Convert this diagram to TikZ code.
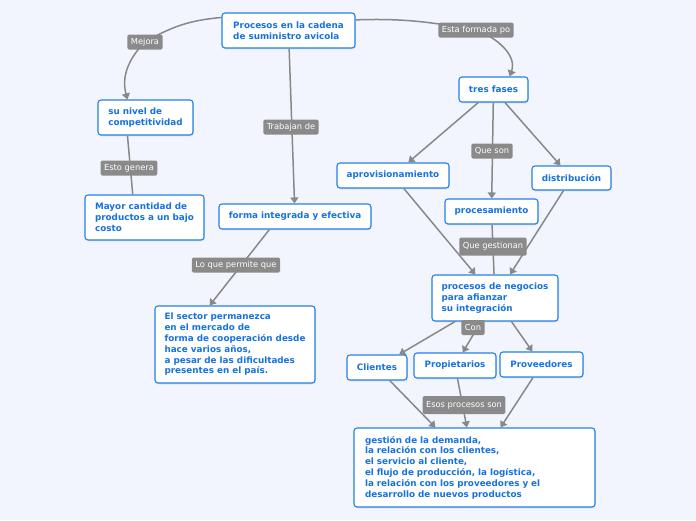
\documentclass[tikz,border=0pt]{standalone}
\usepackage{fontspec}
\setmainfont{DejaVu Sans}
\usetikzlibrary{arrows.meta,shadows}
\definecolor{bgc}{RGB}{242,245,253}
\definecolor{nodeblue}{RGB}{34,128,232}
\definecolor{textblue}{RGB}{22,114,224}
\definecolor{labgray}{RGB}{138,138,138}
\definecolor{conngray}{RGB}{136,136,136}
\tikzset{
  x=1pt,y=-1pt,
  boxbase/.style={draw=nodeblue,fill=white,line width=1.1pt,rounded corners=3pt,
    text=textblue,font=\bfseries\fontsize{8.8}{10.8}\selectfont,
    drop shadow={opacity=0.18,shadow xshift=0.6pt,shadow yshift=-1.4pt}},
  sbox/.style={boxbase,align=center,inner xsep=0pt,inner ysep=0pt,minimum height=25pt},
  mbox/.style={boxbase,align=left,inner xsep=0pt,inner ysep=0pt},
  lab/.style={fill=labgray,text=white,rounded corners=1.5pt,inner xsep=3.5pt,inner ysep=0pt,
    minimum height=15pt,font=\fontsize{8.3}{10}\selectfont},
  conn/.style={draw=conngray,line width=1.5pt},
  arr/.style={conn,-{Triangle[width=8pt,length=6pt]}}
}
\begin{document}
\begin{tikzpicture}
\fill[bgc] (0,0) rectangle (696,520);
\useasboundingbox (0,0) rectangle (696,520);

% nodes
\node[mbox,minimum width=133pt,minimum height=35pt] (root) at (288.5,30.5) {Procesos en la cadena\\de suministro avicola};
\node[sbox,minimum width=69pt] (tres) at (493.5,89.5) {tres fases};
\node[mbox,minimum width=95pt,minimum height=35pt] (nivel) at (145.5,117.5) {su nivel de\\competitividad};
\node[mbox,minimum width=119pt,minimum height=45pt] (mayor) at (144.5,217.5) {Mayor cantidad de\\productos a un bajo\\costo};
\node[sbox,minimum width=152pt] (forma) at (295,216.5) {forma integrada y efectiva};
\node[sbox,minimum width=112pt] (aprov) at (393,175.5) {aprovisionamiento};
\node[sbox,minimum width=79pt,minimum height=24pt] (distrib) at (571.5,178) {distribución};
\node[sbox,minimum width=93pt] (proces) at (491.5,211.5) {procesamiento};
\node[mbox,minimum width=126pt,minimum height=46pt] (neg) at (495,298) {procesos de negocios\\para afianzar\\su integración};
\node[mbox,minimum width=160pt,minimum height=77pt] (sector) at (235,344.5) {El sector permanezca\\en el mercado de\\forma de cooperación desde\\hace varios años,\\a pesar de las dificultades\\presentes en el país.};
\node[sbox,minimum width=60pt] (cli) at (377,367.5) {Clientes};
\node[sbox,minimum width=82pt] (prop) at (455,365.5) {Propietarios};
\node[sbox,minimum width=83pt] (prov) at (541.5,364.5) {Proveedores};
\node[mbox,text width=219pt,inner xsep=11pt,minimum height=79pt] (gest) at (474.5,467.5) {gestión de la demanda,\\la relación con los clientes,\\el servicio al cliente,\\el flujo de producción, la logística,\\la relación con los proveedores y el\\desarrollo de nuevos productos};

% label anchors
\coordinate (cmejora) at (145,42);
\coordinate (cesta) at (476,30);

% connectors
\draw[arr] (root.169) to[out=185,in=30] (cmejora) to[out=225,in=105] (nivel.135);
\draw[arr] (root.9) to[out=2,in=170] (cesta) to[out=-20,in=70] (tres.39);
\draw[arr] (root) -- (forma);
\draw[conn] (nivel.225) -- (mayor.117);
\draw[arr] (forma.207) -- (sector.123);
\draw[arr] (tres) -- (aprov);
\draw[arr] (tres) -- (proces);
\draw[arr] (tres) -- (distrib);
\draw[arr] (aprov) -- (neg);
\draw[conn] (proces) -- (neg);
\draw[arr] (distrib) -- (neg);
\draw[arr] (neg) -- (cli);
\draw[arr] (neg) -- (prop);
\draw[arr] (neg) -- (prov);
\draw[arr] (cli) -- (gest);
\draw[arr] (prop) -- (gest);
\draw[arr] (prov) -- (gest);

% labels
\node[lab] (lmejora) at (cmejora) {Mejora};
\node[lab] (lesta) at (cesta) {Esta formada po};
\node[lab] (ltrab) at (291,127) {Trabajan de};
\node[lab] (lesto) at (129,168) {Esto genera};
\node[lab] (lqueson) at (492,151) {Que son};
\node[lab] (lloque) at (236,265) {Lo que permite que};
\node[lab,minimum height=18pt] (lgest) at (493,246.5) {Que gestionan};
\node[lab] (lcon) at (473,327.5) {Con};
\node[lab,minimum height=18pt] (lesos) at (464,405) {Esos procesos son};
\end{tikzpicture}
\end{document}
